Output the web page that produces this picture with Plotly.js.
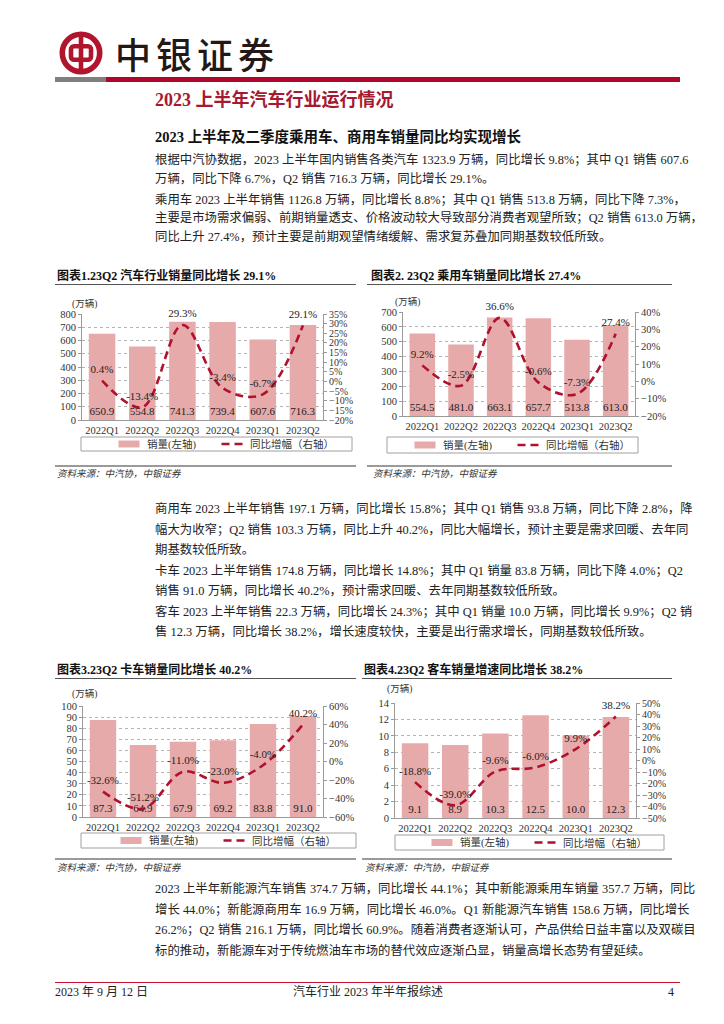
<!DOCTYPE html>
<html>
<head>
<meta charset="utf-8">
<script src="https://cdn.plot.ly/plotly-3.0.1.min.js"></script>
<style>
  html, body { margin:0; padding:0; background:#fff; }
  #page { position:relative; width:724px; height:1024px; overflow:hidden; background:#fff;
          font-family:"Liberation Serif","Noto Sans CJK SC",serif; color:#222; }
  .abs { position:absolute; }
  .ln { position:absolute; left:155px; width:528px; font-size:12.4px; line-height:18px; height:18px;
        text-align:justify; text-align-last:justify; white-space:nowrap; }
  .ln.last { text-align-last:left; }
  .ctitle { position:absolute; font-size:12px; font-weight:bold; line-height:16px; white-space:nowrap; color:#111; }
  .src { position:absolute; font-size:9.5px; font-style:italic; line-height:12px; color:#333; white-space:nowrap; }
  .hr { position:absolute; height:1.5px; background:#555; }
  .hr2 { position:absolute; height:2px; background:#9a9a9a; }
  .chart { position:absolute; }
</style>
</head>
<body>
<div id="page">
  <!-- logo -->
  <svg class="abs" style="left:58px;top:30px" width="46" height="46" viewBox="-23 -23 46 46">
    <circle cx="0" cy="0" r="18.7" fill="none" stroke="#B1152E" stroke-width="5.6"/>
    <rect x="-10" y="-6.8" width="20" height="13.6" rx="3" fill="none" stroke="#B1152E" stroke-width="4.6"/>
    <line x1="0" y1="-19" x2="0" y2="19" stroke="#B1152E" stroke-width="4.6"/>
  </svg>
  <div class="abs" style="left:115px;top:30px;font-size:36px;line-height:46px;letter-spacing:5px;color:#231815;font-weight:500;font-family:'Noto Sans CJK SC';">中银证券</div>
  <div class="abs" style="left:55px;top:77px;width:51px;height:5px;background:#7f7f7f;"></div>
  <div class="abs" style="left:106px;top:77px;width:574px;height:5px;background:#B0062B;"></div>

  <div class="abs" style="left:155px;top:89px;font-size:18px;line-height:22px;font-weight:bold;color:#A6192E;white-space:nowrap;">2023 上半年汽车行业运行情况</div>
  <div class="abs" style="left:155px;top:128px;font-size:14.5px;line-height:18px;font-weight:bold;color:#111;white-space:nowrap;">2023 上半年及二季度乘用车、商用车销量同比均实现增长</div>

  <div class="ln" style="top:151px">根据中汽协数据，2023 上半年国内销售各类汽车 1323.9 万辆，同比增长 9.8%；其中 Q1 销售 607.6</div>
  <div class="ln last" style="top:169.5px">万辆，同比下降 6.7%，Q2 销售 716.3 万辆，同比增长 29.1%。</div>
  <div class="ln" style="top:190.5px">乘用车 2023 上半年销售 1126.8 万辆，同比增长 8.8%；其中 Q1 销售 513.8 万辆，同比下降 7.3%，</div>
  <div class="ln" style="top:209px">主要是市场需求偏弱、前期销量透支、价格波动较大导致部分消费者观望所致；Q2 销售 613.0 万辆，</div>
  <div class="ln last" style="top:227.5px">同比上升 27.4%，预计主要是前期观望情绪缓解、需求复苏叠加同期基数较低所致。</div>

  <!-- chart 1 frame -->
  <div class="ctitle" style="left:57px;top:268px">图表1.23Q2 汽车行业销量同比增长 29.1%</div>
  <div class="hr" style="left:55px;top:283.5px;width:301px"></div>
  <div class="hr2" style="left:55px;top:465px;width:301px"></div>
  <div class="src" style="left:57px;top:468px">资料来源：中汽协，中银证券</div>
  <div id="c1" class="chart" style="left:50px;top:288px;width:310px;height:172px"></div>

  <!-- chart 2 frame -->
  <div class="ctitle" style="left:371px;top:268px">图表2. 23Q2 乘用车销量同比增长 27.4%</div>
  <div class="hr" style="left:367px;top:283.5px;width:305px"></div>
  <div class="hr2" style="left:367px;top:465px;width:305px"></div>
  <div class="src" style="left:373px;top:468px">资料来源：中汽协，中银证券</div>
  <div id="c2" class="chart" style="left:362px;top:288px;width:310px;height:172px"></div>

  <div class="ln" style="top:500px">商用车 2023 上半年销售 197.1 万辆，同比增长 15.8%；其中 Q1 销售 93.8 万辆，同比下降 2.8%，降</div>
  <div class="ln" style="top:520.5px">幅大为收窄；Q2 销售 103.3 万辆，同比上升 40.2%，同比大幅增长，预计主要是需求回暖、去年同</div>
  <div class="ln last" style="top:541px">期基数较低所致。</div>
  <div class="ln" style="top:562px">卡车 2023 上半年销售 174.8 万辆，同比增长 14.8%；其中 Q1 销量 83.8 万辆，同比下降 4.0%；Q2</div>
  <div class="ln last" style="top:582px">销售 91.0 万辆，同比增长 40.2%，预计需求回暖、去年同期基数较低所致。</div>
  <div class="ln" style="top:602.5px">客车 2023 上半年销售 22.3 万辆，同比增长 24.3%；其中 Q1 销量 10.0 万辆，同比增长 9.9%；Q2 销</div>
  <div class="ln last" style="top:623px">售 12.3 万辆，同比增长 38.2%，增长速度较快，主要是出行需求增长，同期基数较低所致。</div>

  <!-- chart 3 frame -->
  <div class="ctitle" style="left:57px;top:662px">图表3.23Q2 卡车销量同比增长 40.2%</div>
  <div class="hr" style="left:55px;top:677.5px;width:301px"></div>
  <div class="hr2" style="left:55px;top:858px;width:301px"></div>
  <div class="src" style="left:57px;top:862px">资料来源：中汽协，中银证券</div>
  <div id="c3" class="chart" style="left:50px;top:680px;width:310px;height:172px"></div>

  <!-- chart 4 frame -->
  <div class="ctitle" style="left:364px;top:662px">图表4.23Q2 客车销量增速同比增长 38.2%</div>
  <div class="hr" style="left:362px;top:677.5px;width:310px"></div>
  <div class="hr2" style="left:362px;top:858px;width:310px"></div>
  <div class="src" style="left:365px;top:862px">资料来源：中汽协，中银证券</div>
  <div id="c4" class="chart" style="left:362px;top:680px;width:310px;height:172px"></div>

  <div class="ln" style="top:880px">2023 上半年新能源汽车销售 374.7 万辆，同比增长 44.1%；其中新能源乘用车销量 357.7 万辆，同比</div>
  <div class="ln" style="top:900.5px">增长 44.0%；新能源商用车 16.9 万辆，同比增长 46.0%。Q1 新能源汽车销售 158.6 万辆，同比增长</div>
  <div class="ln" style="top:921px">26.2%；Q2 销售 216.1 万辆，同比增长 60.9%。随着消费者逐渐认可，产品供给日益丰富以及双碳目</div>
  <div class="ln last" style="top:941.5px">标的推动，新能源车对于传统燃油车市场的替代效应逐渐凸显，销量高增长态势有望延续。</div>

  <div class="abs" style="left:55px;top:981.5px;width:625px;height:1.6px;background:#C8102E;"></div>
  <div class="abs" style="left:55px;top:984px;font-size:12px;line-height:16px;white-space:nowrap;">2023 年 9 月 12 日</div>
  <div class="abs" style="left:293px;top:984px;font-size:12px;line-height:16px;white-space:nowrap;">汽车行业 2023 年半年报综述</div>
  <div class="abs" style="left:668px;top:984px;font-size:12px;line-height:16px;white-space:nowrap;">4</div>
</div>

<script>
// ---------------- data ----------------
const quarters = ['2022Q1', '2022Q2', '2022Q3', '2022Q4', '2023Q1', '2023Q2'];

const autoSales   = [650.9, 554.8, 741.3, 739.4, 607.6, 716.3];
const autoGrowth  = [0.4, -13.4, 29.3, -3.4, -6.7, 29.1];

const pvSales     = [554.5, 481.0, 663.1, 657.7, 513.8, 613.0];
const pvGrowth    = [9.2, -2.5, 36.6, -0.6, -7.3, 27.4];

const truckSales  = [87.3, 64.9, 67.9, 69.2, 83.8, 91.0];
const truckGrowth = [-32.6, -51.2, -11.0, -23.0, -4.0, 40.2];

const busSales    = [9.1, 8.9, 10.3, 12.5, 10.0, 12.3];
const busGrowth   = [-18.8, -39.0, -9.6, -6.0, 9.9, 38.2];

const barName  = '销量(左轴)';
const lineName = '同比增幅（右轴）';
const unitLabel = '(万辆)';

// ---------------- styling ----------------
const SERIF = '"Liberation Serif", "Noto Sans CJK SC", serif';
const BAR_COLOR = '#E7AAAA';
const LINE_COLOR = '#B0112C';
const AXIS_COLOR = '#9a9a9a';
const TXT = '#222';
const DIV_W = 310, DIV_H = 172;

function drawChart(id, sales, growth, opt) {
  const m = opt.margin;
  const plotW = DIV_W - m.l - m.r;
  const plotH = DIV_H - m.t - m.b;
  const px = v => (v - m.l) / plotW;            // div pixel x -> paper
  const py = v => (m.t + plotH - v) / plotH;    // div pixel y -> paper
  const [bl, br, bt, bb] = opt.box;
  const cx = (bl + br) / 2, cy = (bt + bb) / 2;

  const traces = [
    {
      type: 'bar', x: quarters, y: sales, name: barName, showlegend: false,
      marker: { color: BAR_COLOR, line: { width: 0 } },
      width: 0.66,
      texttemplate: '%{y:.1f}', textposition: 'inside', insidetextanchor: 'start',
      textangle: 0, constraintext: 'none',
      textfont: { family: SERIF, size: 11, color: TXT },
      hoverinfo: 'skip'
    },
    {
      type: 'scatter', mode: 'lines', x: quarters, y: growth, yaxis: 'y2', name: lineName, showlegend: false,
      line: { color: LINE_COLOR, width: 2.6, dash: '8px,5px', shape: 'spline', smoothing: 1 },
      hoverinfo: 'skip'
    },
    {
      type: 'scatter', mode: 'markers+text', x: quarters, y: growth, yaxis: 'y2', showlegend: false,
      marker: { size: 6, opacity: 0, color: LINE_COLOR },
      texttemplate: '%{y:.1f}%', textposition: 'top center', cliponaxis: false,
      textfont: { family: SERIF, size: 11, color: TXT },
      hoverinfo: 'skip'
    }
  ];

  const tickfont = { family: SERIF, size: 10.5, color: '#333' };
  const legFont = { family: SERIF, size: 10.5, color: '#333' };
  const layout = {
    width: DIV_W, height: DIV_H,
    margin: Object.assign({ autoexpand: false, pad: 0 }, m),
    paper_bgcolor: 'rgba(0,0,0,0)', plot_bgcolor: 'rgba(0,0,0,0)',
    showlegend: false,
    bargap: 0.34,
    xaxis: {
      type: 'category', showline: true, linecolor: AXIS_COLOR, linewidth: 1,
      ticks: '', tickfont: tickfont, showgrid: false, zeroline: false, fixedrange: true,
      automargin: false
    },
    yaxis: {
      range: opt.yRange, dtick: opt.yDtick, tick0: 0,
      showline: true, linecolor: AXIS_COLOR, linewidth: 1,
      ticks: 'outside', ticklen: 3, tickcolor: AXIS_COLOR,
      showgrid: true, gridcolor: '#b5b5b5', griddash: 'dot', gridwidth: 1,
      zeroline: false, tickfont: tickfont, fixedrange: true, automargin: false
    },
    yaxis2: {
      overlaying: 'y', side: 'right', range: opt.y2Range, dtick: opt.y2Dtick, tick0: 0,
      ticksuffix: '%', showline: true, linecolor: AXIS_COLOR, linewidth: 1,
      ticks: 'outside', ticklen: 3, tickcolor: AXIS_COLOR,
      showgrid: false, zeroline: false, tickfont: { family: SERIF, size: opt.y2Font, color: '#333' },
      fixedrange: true, automargin: false
    },
    shapes: [
      // legend frame
      { type: 'rect', xref: 'paper', yref: 'paper', x0: px(bl), x1: px(br), y0: py(bt), y1: py(bb),
        line: { color: '#a0a0a0', width: 1 }, fillcolor: 'rgba(0,0,0,0)' },
      // bar swatch
      { type: 'rect', xref: 'paper', yref: 'paper', x0: px(cx - 98), x1: px(cx - 77),
        y0: py(cy - 3.5), y1: py(cy + 3.5), line: { width: 0 }, fillcolor: BAR_COLOR },
      // line swatch
      { type: 'line', xref: 'paper', yref: 'paper', x0: px(cx + 5), x1: px(cx + 26),
        y0: py(cy), y1: py(cy), line: { color: LINE_COLOR, width: 2.6, dash: '8px,5px' } }
    ],
    annotations: [
      { xref: 'paper', yref: 'paper', x: 0, y: 1, xanchor: 'center', yanchor: 'bottom',
        xshift: opt.unitShift[0], yshift: opt.unitShift[1],
        text: unitLabel, showarrow: false, font: { family: SERIF, size: 9.5, color: '#333' } },
      { xref: 'paper', yref: 'paper', x: px(cx - 72), y: py(cy), xanchor: 'left', yanchor: 'middle',
        text: barName, showarrow: false, font: legFont },
      { xref: 'paper', yref: 'paper', x: px(cx + 31), y: py(cy), xanchor: 'left', yanchor: 'middle',
        text: lineName, showarrow: false, font: legFont }
    ]
  };
  Plotly.newPlot(id, traces, layout, { staticPlot: true, displayModeBar: false });
}

drawChart('c1', autoSales, autoGrowth, {
  margin: { l: 32, r: 37, t: 26, b: 40 },
  yRange: [0, 800], yDtick: 100, y2Range: [-20, 35], y2Dtick: 5, y2Font: 10,
  box: [31, 302, 149, 163], unitShift: [2, 2]
});
drawChart('c2', pvSales, pvGrowth, {
  margin: { l: 41, r: 37, t: 24, b: 44 },
  yRange: [0, 700], yDtick: 100, y2Range: [-20, 40], y2Dtick: 10, y2Font: 10.5,
  box: [25, 276, 149, 165], unitShift: [4, 2]
});
drawChart('c3', truckSales, truckGrowth, {
  margin: { l: 33, r: 37, t: 26, b: 35 },
  yRange: [0, 100], yDtick: 10, y2Range: [-60, 60], y2Dtick: 20, y2Font: 10.5,
  box: [31, 306, 153, 168], unitShift: [1, 4]
});
drawChart('c4', busSales, busGrowth, {
  margin: { l: 33, r: 36, t: 23, b: 34 },
  yRange: [0, 14], yDtick: 2, y2Range: [-50, 50], y2Dtick: 10, y2Font: 10,
  box: [33, 302, 155, 170], unitShift: [4, 6]
});
</script>
</body>
</html>
